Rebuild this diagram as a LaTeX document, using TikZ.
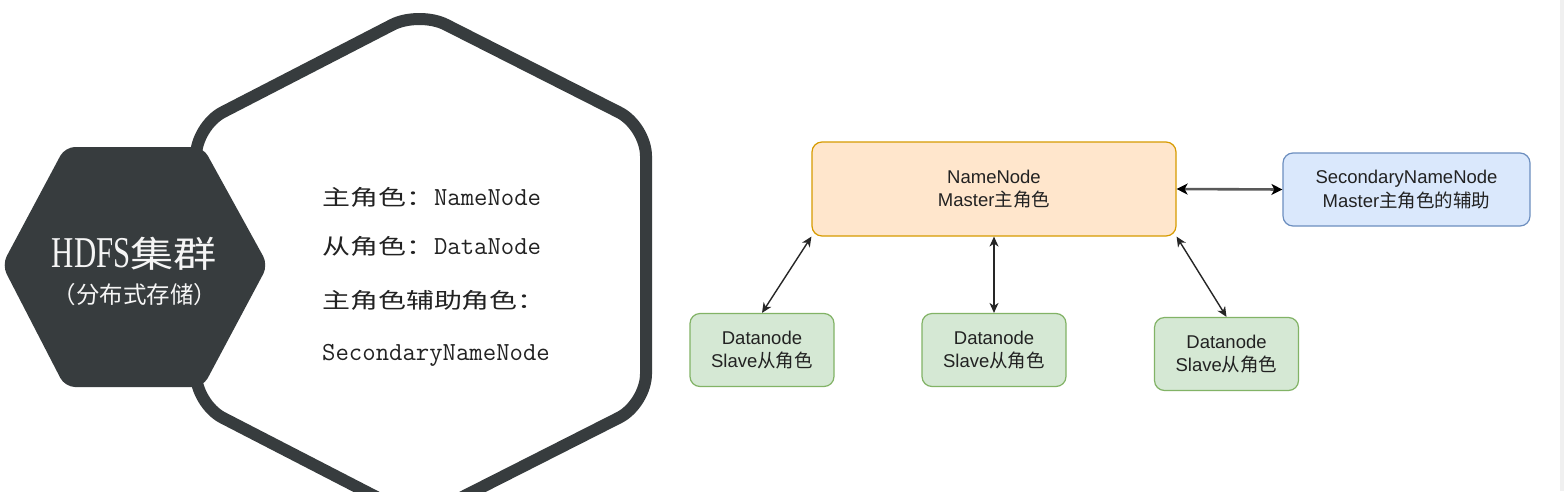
\documentclass[tikz,border=0pt]{standalone}
\usepackage{fontspec}
\usepackage{graphicx}
\setmainfont{Liberation Serif}
\newfontfamily\cjk{Noto Sans CJK SC}
\newfontfamily\boxsans{Liberation Sans}
\usetikzlibrary{arrows.meta}
\definecolor{hexdark}{RGB}{55,60,62}
\definecolor{nnfill}{RGB}{255,230,204}
\definecolor{nndraw}{RGB}{215,155,0}
\definecolor{snnfill}{RGB}{218,232,252}
\definecolor{snndraw}{RGB}{108,142,191}
\definecolor{dnfill}{RGB}{213,232,212}
\definecolor{dndraw}{RGB}{130,179,102}
\definecolor{txtdark}{RGB}{34,34,34}
\newcommand\cjkwide[1]{\scalebox{1.3}[1]{{\cjk\fontsize{21.5}{21.5}\selectfont #1}}}
\newcommand\monotext[1]{{\ttfamily\fontsize{26}{26}\selectfont #1}}
\tikzset{
  lefttext/.style={anchor=base west, inner sep=0pt, text=txtdark},
  hextext/.style={anchor=base, inner sep=0pt, text=white!96!black},
  diagbox/.style={rounded corners=10pt, line width=1.2pt, inner sep=0pt, align=center,
    text=txtdark, font={\boxsans\fontsize{18.5}{23.5}\selectfont}},
  nnbox/.style={diagbox, draw=nndraw, fill=nnfill, minimum width=364pt, minimum height=94pt},
  snnbox/.style={diagbox, draw=snndraw, fill=snnfill, minimum width=247pt, minimum height=73pt},
  dnbox/.style={diagbox, draw=dndraw, fill=dnfill, minimum width=144pt, minimum height=73pt},
  conn/.style={{Stealth[length=10pt,width=9pt,inset=3pt]}-{Stealth[length=10pt,width=9pt,inset=3pt]},
    line width=1.4pt, draw=black!85},
  connthick/.style={{Stealth[length=11pt,width=11pt,inset=3pt,color=black]}-{Stealth[length=11pt,width=11pt,inset=3pt,color=black]},
    line width=2.6pt, draw=black!65}
}
\begin{document}
\begin{tikzpicture}[x=1pt,y=-1pt]
\useasboundingbox (0,0) rectangle (1564,491);
\clip (0,0) rectangle (1564,491);
\fill[white] (0,0) rectangle (1564,491);
\fill[black!6] (1560,0) rectangle (1564,491);

% big outlined hexagon
\draw[hexdark, line width=12pt, rounded corners=30pt, line join=round]
  (419,11) -- (646,126) -- (646,404) -- (419,519) -- (196,404) -- (196,126) -- cycle;
% small filled hexagon
\fill[hexdark, rounded corners=10pt]
  (2,265) -- (65,147) -- (203,147) -- (268,265) -- (203,387) -- (65,387) -- cycle;

\node[hextext] (hdfs) at (134.5,267)
  {\scalebox{0.7}[1]{\fontsize{44}{44}\selectfont HDFS}\scalebox{1.2}[1]{{\cjk\fontsize{36}{36}\selectfont 集群}}};
\node[hextext] (dist) at (135,303) {{\cjk\fontsize{23.5}{23.5}\selectfont （分布式存储）}};

\node[lefttext] (l1) at (322,205) {\cjkwide{主角色：}\monotext{NameNode}};
\node[lefttext] (l2) at (322,254) {\cjkwide{从角色：}\monotext{DataNode}};
\node[lefttext] (l3) at (322,308) {\cjkwide{主角色辅助角色：}};
\node[lefttext] (l4) at (322,360) {\monotext{SecondaryNameNode}};

% right diagram
\node[nnbox] (nn) at (994,189) {NameNode\\Master{\cjk 主角色}};
\node[snnbox] (snn) at (1406.5,189.5) {SecondaryNameNode\\Master{\cjk 主角色的辅助}};
\node[dnbox] (dn1) at (762,350) {Datanode\\Slave{\cjk 从角色}};
\node[dnbox] (dn2) at (994,350) {Datanode\\Slave{\cjk 从角色}};
\node[dnbox] (dn3) at (1226.5,354) {Datanode\\Slave{\cjk 从角色}};

\draw[connthick] (nn.east) -- (snn.west);
\draw[conn] (nn.south west) -- (dn1.north);
\draw[conn] (nn.south) -- (dn2.north);
\draw[conn] (nn.south east) -- (dn3.north);
\end{tikzpicture}
\end{document}
